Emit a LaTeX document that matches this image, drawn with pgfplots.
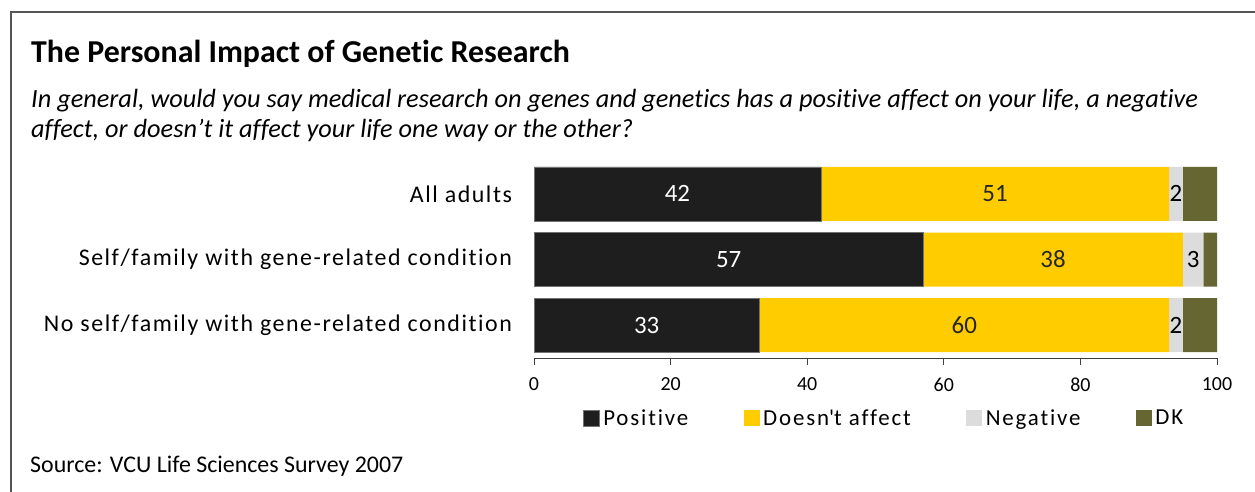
\documentclass[border=0pt]{standalone}
\usepackage{fontspec}
\setmainfont{Carlito}[Ligatures={NoCommon}]
\usepackage{pgfplots}
\usepackage{pgfplotstable}
\pgfplotsset{compat=1.18}
\definecolor{cpos}{HTML}{1E1E1E}
\definecolor{cno}{HTML}{FFCC00}
\definecolor{cneg}{HTML}{DCDCDC}
\definecolor{cdk}{HTML}{666633}
\definecolor{cframe}{HTML}{555555}
\pgfplotstableread{
y pos no neg dk
0 42 51 2 5
1 57 38 3 2
2 33 60 2 5
}\data
\pgfplotsset{
  geom/.style={
    at={(534bp,-358bp)}, anchor=south west,
    scale only axis, width=683bp, height=197bp,
    xmin=0, xmax=100, ymin=-0.5, ymax=2.5, enlargelimits=false,
    y dir=reverse},
  vallabel/.style={only marks, mark=none, nodes near coords, point meta=explicit symbolic,
    nodes near coords style={anchor=center, inner sep=0pt, font=\fontsize{25}{27}\selectfont, text=#1}},
}
\begin{document}
\begin{tikzpicture}
\path[use as bounding box] (0,0) rectangle (1255bp,-492bp);
\draw[cframe, line width=1.8bp] (11bp,-492bp) -- (11bp,-12bp) -- (1255bp,-12bp);
\node[anchor=base west, inner sep=0] at (31bp,-62bp) {\fontsize{32}{36}\selectfont\bfseries The Personal Impact of Genetic Research};
\node[anchor=base west, inner sep=0] at (31bp,-107bp) {\fontsize{26.4}{30}\selectfont\itshape In general, would you say medical research on genes and genetics has a positive affect on your life, a negative};
\node[anchor=base west, inner sep=0] at (31bp,-137bp) {\fontsize{26.4}{30}\selectfont\itshape affect, or doesn’t it affect your life one way or the other?};
\node[anchor=base west, inner sep=0] at (30bp,-472bp) {\fontsize{24}{27}\selectfont Source: VCU Life Sciences Survey 2007};
\begin{axis}[
  geom,
  xbar stacked, bar width=54bp,
  axis x line*=bottom, axis y line*=left,
  y axis line style={draw=none},
  x axis line style={draw=black!75, line width=0.9bp},
  ytick={0,1,2},
  yticklabels={All adults, Self/family with gene-related condition, No self/family with gene-related condition},
  ytick style={draw=none},
  yticklabel style={font=\fontsize{24}{26}\selectfont\addfontfeatures{LetterSpace=6.5}, xshift=-12bp},
  xtick={0,20,...,100},
  tick align=outside, major tick length=6.5bp,
  xtick style={draw=black!75, line width=0.9bp},
  xticklabel style={font=\fontsize{20}{22}\selectfont, yshift=-10bp},
  /pgf/number format/assume math mode=true,
  legend style={at={(0.0717,-0.305)}, anchor=west, draw=none, inner sep=0pt,
    font=\fontsize{23}{25}\selectfont\addfontfeatures{LetterSpace=8},
    nodes={inner xsep=3.5bp},
    /tikz/every even column/.append style={column sep=52bp}},
  legend columns=4,
  legend image code/.code={\fill[#1] (0bp,-8bp) rectangle (16bp,8bp);},
]
\addplot[fill=cpos, draw=black!55, line width=0.6bp] table[x=pos, y=y] {\data};
\addlegendentry{Positive}
\addplot[fill=cno, draw=none] table[x=no, y=y] {\data};
\addlegendentry{Doesn\textquotesingle t affect}
\addplot[fill=cneg, draw=none] table[x=neg, y=y] {\data};
\addlegendentry{Negative}
\addplot[fill=cdk, draw=none] table[x=dk, y=y] {\data};
\addlegendentry{DK}
\end{axis}
\begin{axis}[geom, hide axis]
\addplot[vallabel=white] table[x expr=\thisrow{pos}/2, y=y, meta=pos] {\data};
\addplot[vallabel=black!85] table[x expr=\thisrow{pos}+\thisrow{no}/2, y=y, meta=no] {\data};
\addplot[vallabel=black] table[x expr=\thisrow{pos}+\thisrow{no}+\thisrow{neg}/2, y=y, meta=neg] {\data};
\end{axis}
\end{tikzpicture}
\end{document}
